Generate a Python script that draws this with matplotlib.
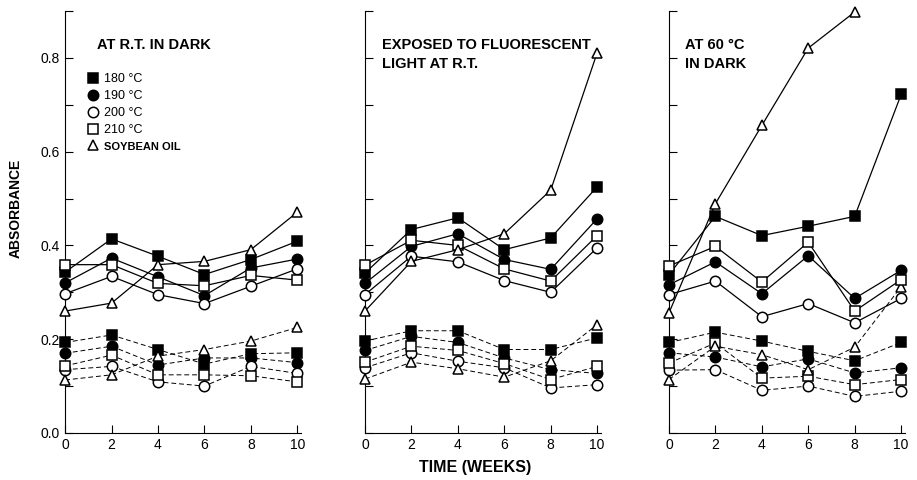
import numpy as np
import matplotlib.pyplot as plt
from matplotlib.lines import Line2D

plt.rcParams['font.family'] = ['Liberation Sans', 'DejaVu Sans']

weeks = [0, 2, 4, 6, 8, 10]
names = ['180 °C', '190 °C', '200 °C', '210 °C', 'SOYBEAN OIL']

# panel 1: at R.T. in dark (upper = solid, lower = dashed)
rt_upper = [
    [0.343, 0.414, 0.377, 0.338, 0.370, 0.409],
    [0.320, 0.373, 0.333, 0.293, 0.352, 0.371],
    [0.297, 0.334, 0.295, 0.276, 0.313, 0.350],
    [0.359, 0.359, 0.319, 0.314, 0.336, 0.326],
    [0.260, 0.277, 0.359, 0.366, 0.391, 0.471],
]
rt_lower = [
    [0.193, 0.209, 0.178, 0.147, 0.169, 0.171],
    [0.170, 0.185, 0.145, 0.160, 0.160, 0.150],
    [0.135, 0.142, 0.109, 0.100, 0.142, 0.127],
    [0.143, 0.166, 0.124, 0.124, 0.122, 0.109],
    [0.113, 0.124, 0.164, 0.178, 0.196, 0.225],
]

# panel 2: exposed to fluorescent light at R.T.
fl_upper = [
    [0.341, 0.434, 0.459, 0.391, 0.416, 0.525],
    [0.319, 0.398, 0.425, 0.370, 0.349, 0.457],
    [0.295, 0.377, 0.365, 0.325, 0.300, 0.395],
    [0.358, 0.411, 0.400, 0.350, 0.324, 0.421],
    [0.260, 0.366, 0.391, 0.425, 0.518, 0.811],
]
fl_lower = [
    [0.196, 0.218, 0.218, 0.178, 0.178, 0.203],
    [0.176, 0.206, 0.193, 0.160, 0.135, 0.127],
    [0.139, 0.171, 0.153, 0.139, 0.096, 0.103],
    [0.151, 0.185, 0.176, 0.148, 0.114, 0.142],
    [0.115, 0.151, 0.137, 0.119, 0.154, 0.231],
]

# panel 3: at 60 C in dark
hot_upper = [
    [0.338, 0.462, 0.421, 0.441, 0.462, 0.722],
    [0.316, 0.365, 0.297, 0.378, 0.287, 0.347],
    [0.295, 0.324, 0.248, 0.276, 0.235, 0.287],
    [0.356, 0.398, 0.322, 0.407, 0.260, 0.327],
    [0.256, 0.489, 0.656, 0.821, 0.898, np.nan],
]
hot_lower = [
    [0.193, 0.215, 0.196, 0.174, 0.154, 0.193],
    [0.171, 0.162, 0.141, 0.158, 0.128, 0.139],
    [0.134, 0.135, 0.091, 0.100, 0.078, 0.089],
    [0.149, 0.192, 0.117, 0.121, 0.103, 0.114],
    [0.114, 0.185, 0.167, 0.135, 0.183, 0.312],
]

markers = ['s', 'o', 'o', 's', '^']
fills = ['black', 'black', 'white', 'white', 'white']

panels = [
    (rt_upper, rt_lower, 'AT R.T. IN DARK'),
    (fl_upper, fl_lower, 'EXPOSED TO FLUORESCENT\nLIGHT AT R.T.'),
    (hot_upper, hot_lower, 'AT 60 °C\nIN DARK'),
]
lefts = [0.071, 0.398, 0.7295]
title_x = [0.136, 0.072, 0.068]

fig = plt.figure(figsize=(9.17, 4.8), dpi=100)
axes = []
for k, (up, low, title) in enumerate(panels):
    ax = fig.add_axes([lefts[k], 0.098, 0.257, 0.879])
    axes.append(ax)
    for i in range(5):
        ax.plot(weeks, low[i], ls=(0, (5, 3)), lw=0.7, color='black',
                marker=markers[i], mfc=fills[i], mec='black', ms=7.5, mew=1.1,
                clip_on=False, zorder=3)
        ax.plot(weeks, up[i], ls='-', lw=0.9, color='black',
                marker=markers[i], mfc=fills[i], mec='black', ms=7.5, mew=1.1,
                clip_on=False, zorder=4)
    ax.set_xlim(0, 10.15)
    ax.set_ylim(0, 0.9)
    ax.set_xticks(weeks)
    ax.set_yticks(np.arange(0, 0.91, 0.1))
    ax.spines['top'].set_visible(False)
    ax.spines['right'].set_visible(False)
    ax.tick_params(direction='in', length=6, labelsize=10)
    if k == 0:
        ax.set_yticklabels(['0.0', '', '0.2', '', '0.4', '', '0.6', '', '0.8', ''])
    else:
        ax.set_yticklabels([])
    ax.text(title_x[k], 0.935, title, transform=ax.transAxes, fontsize=10.5,
            fontweight='bold', va='top', ha='left', linespacing=1.45)

handles = [Line2D([], [], ls='none', marker=markers[i], mfc=fills[i],
                  mec='black', ms=7.5, mew=1.1) for i in range(5)]
leg = axes[0].legend(handles, names, loc='upper left',
                     bbox_to_anchor=(0.045, 0.88), frameon=False,
                     handletextpad=0.4, labelspacing=0.4, fontsize=9,
                     handlelength=1.0)
leg.get_texts()[4].set_fontweight('bold')
leg.get_texts()[4].set_fontsize(8)

fig.text(0.017, 0.565, 'ABSORBANCE', rotation=90, ha='center', va='center',
         fontsize=10, fontweight='bold')
fig.text(0.518, 0.027, 'TIME (WEEKS)', ha='center', va='center',
         fontsize=11.5, fontweight='bold')

fig.savefig('out.png', dpi=100)
